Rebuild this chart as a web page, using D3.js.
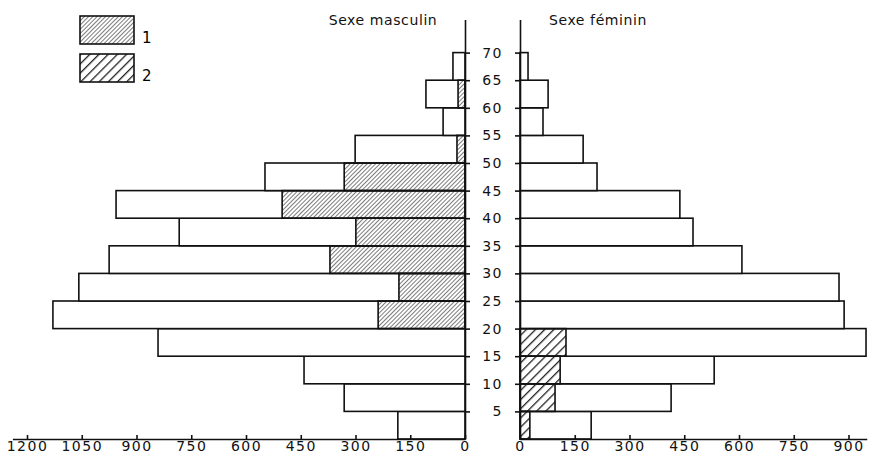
<!DOCTYPE html>
<html>
<head>
<meta charset="utf-8">
<script src="https://cdn.jsdelivr.net/npm/d3@7"></script>
<style>
  body { margin: 0; background: #fff; }
  svg { display: block; font-family: "DejaVu Sans", sans-serif; }
  .axis path, .axis line { stroke: #111; stroke-width: 1.6; }
  .axis text { font-family: "DejaVu Sans", sans-serif; font-size: 14px; fill: #111; letter-spacing: 1.5px; }
  .bar { fill: #fff; stroke: #111; stroke-width: 1.6; }
  .title { font-size: 14px; fill: #111; letter-spacing: 0.6px; }
</style>
</head>
<body>
<svg width="870" height="461"></svg>
<script>
// age groups (lower bound, 5-year classes)
const ages = [0, 5, 10, 15, 20, 25, 30, 35, 40, 45, 50, 55, 60, 65];
const ageTicks = [5, 10, 15, 20, 25, 30, 35, 40, 45, 50, 55, 60, 65, 70];

const men = [184, 331, 441, 841, 1129, 1058, 975, 783, 956, 548, 301, 60, 107, 33];
const menHatch1 = [0, 0, 0, 0, 238, 181, 370, 299, 501, 331, 22, 0, 19, 0];
const women = [195, 414, 532, 948, 888, 874, 608, 474, 438, 211, 173, 63, 77, 22];
const womenHatch2 = [27, 96, 110, 126, 0, 0, 0, 0, 0, 0, 0, 0, 0, 0];

const menTicks = [0, 150, 300, 450, 600, 750, 900, 1050, 1200];
const womenTicks = [0, 150, 300, 450, 600, 750, 900];

const svg = d3.select("svg");
const k = 0.365; // px per person

const xMen = d3.scaleLinear().domain([0, 1240]).range([465, 465 - 1240 * k]);
const xWomen = d3.scaleLinear().domain([0, 950]).range([520, 520 + 950 * k]);
const y = d3.scaleLinear().domain([0, 76]).range([439, 439 - 76 * 5.52]);

const defs = svg.append("defs");
const addHatch = (id, step, sw) => {
  defs.append("pattern")
    .attr("id", id)
    .attr("patternUnits", "userSpaceOnUse")
    .attr("width", step).attr("height", step)
    .attr("patternTransform", "rotate(45)")
    .append("line")
    .attr("x1", 0).attr("y1", 0).attr("x2", 0).attr("y2", step)
    .attr("stroke", "#222").attr("stroke-width", sw);
};
addHatch("h1", 3, 1.2);
addHatch("h2", 6.5, 2.6);

// bars
const rows = ages.map((a, i) => ({a, m: men[i], m1: menHatch1[i], w: women[i], w2: womenHatch2[i]}));

const g = svg.append("g");
g.selectAll(".men").data(rows).join("rect")
  .attr("class", "bar")
  .attr("x", d => xMen(d.m))
  .attr("y", d => y(d.a + 5))
  .attr("width", d => xMen(0) - xMen(d.m))
  .attr("height", d => y(d.a) - y(d.a + 5));

g.selectAll(".men1").data(rows.filter(d => d.m1 > 0)).join("rect")
  .attr("class", "bar")
  .style("fill", "url(#h1)")
  .attr("x", d => xMen(d.m1))
  .attr("y", d => y(d.a + 5))
  .attr("width", d => xMen(0) - xMen(d.m1))
  .attr("height", d => y(d.a) - y(d.a + 5));

g.selectAll(".women").data(rows).join("rect")
  .attr("class", "bar")
  .attr("x", xWomen(0))
  .attr("y", d => y(d.a + 5))
  .attr("width", d => xWomen(d.w) - xWomen(0))
  .attr("height", d => y(d.a) - y(d.a + 5));

g.selectAll(".women2").data(rows.filter(d => d.w2 > 0)).join("rect")
  .attr("class", "bar")
  .style("fill", "url(#h2)")
  .attr("x", xWomen(0))
  .attr("y", d => y(d.a + 5))
  .attr("width", d => xWomen(d.w2) - xWomen(0))
  .attr("height", d => y(d.a) - y(d.a + 5));

// axes
const fmt = d3.format("d");
svg.append("g")
  .attr("class", "axis")
  .attr("transform", "translate(0,439)")
  .call(d3.axisBottom(xMen).tickValues(menTicks).tickFormat(fmt)
    .tickSizeInner(-4).tickSizeOuter(0).tickPadding(2));

svg.append("g")
  .attr("class", "axis")
  .attr("transform", "translate(0,439)")
  .call(d3.axisBottom(xWomen).tickValues(womenTicks).tickFormat(fmt)
    .tickSizeInner(-4).tickSizeOuter(0).tickPadding(2));

svg.append("g")
  .attr("class", "axis")
  .attr("transform", "translate(465,0)")
  .call(d3.axisRight(y).tickValues(ageTicks).tickSize(5).tickSizeOuter(0).tickFormat(""));

svg.append("g")
  .attr("class", "axis")
  .attr("transform", "translate(520,0)")
  .call(d3.axisLeft(y).tickValues(ageTicks).tickSize(5).tickSizeOuter(0).tickPadding(12));

// titles
svg.append("text").attr("class", "title")
  .attr("x", 383).attr("y", 25).attr("text-anchor", "middle").text("Sexe masculin");
svg.append("text").attr("class", "title")
  .attr("x", 598).attr("y", 25).attr("text-anchor", "middle").text("Sexe féminin");

// legend
const legend = [{id: "h1", label: "1"}, {id: "h2", label: "2"}];
const lg = svg.append("g").selectAll("g").data(legend).join("g")
  .attr("transform", (d, i) => `translate(80,${16 + i * 38})`);
lg.append("rect").attr("class", "bar")
  .style("fill", d => `url(#${d.id})`)
  .attr("width", 54).attr("height", 28);
lg.append("text")
  .attr("x", 62).attr("y", 27)
  .style("font-size", "15px")
  .text(d => d.label);
</script>
</body>
</html>
